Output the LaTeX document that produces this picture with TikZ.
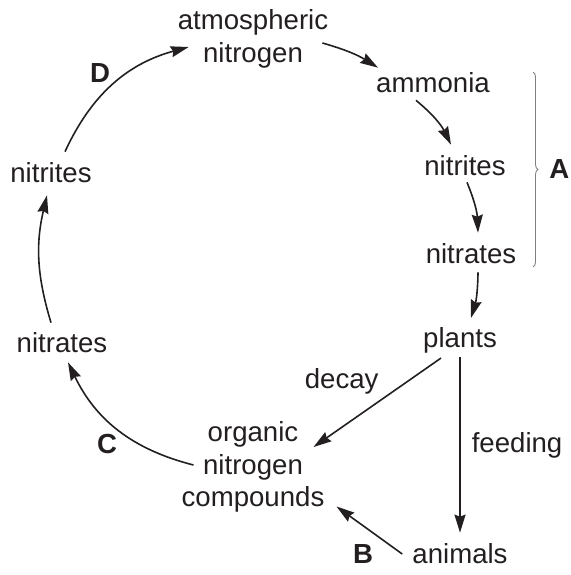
\documentclass[tikz,border=0pt]{standalone}
\usepackage{fontspec}
\setmainfont{Liberation Sans}
\usepackage{xcolor}
\usepackage{tikz}
\usetikzlibrary{arrows.meta,decorations.pathreplacing}
\definecolor{ink}{HTML}{231F20}
\definecolor{bracegray}{HTML}{808080}
\tikzset{
  term/.style ={inner sep=0pt,align=center,text=ink,
                font=\fontsize{27.6}{32.5}\selectfont},
  tag/.style  ={inner sep=0pt,text=ink,font=\fontsize{27.6}{32.5}\selectfont\bfseries},
  cyc/.style  ={-{Stealth[length=18pt,width=11pt,inset=2pt]},line width=1.6pt,draw=ink},
  brc/.style  ={decorate,decoration={brace,amplitude=5pt},line width=0.9pt,draw=bracegray}
}

\begin{document}
\begin{tikzpicture}[x=1pt,y=-1pt]
    \useasboundingbox (0,0) rectangle (570,575);
    % --- the compounds round the cycle ---
    \node[term] (atm) at (253,39) {atmospheric\\nitrogen};
    \node[term] (amm) at (433,83) {ammonia};
    \node[term] (nr)  at (465,166) {nitrites};
    \node[term] (nar) at (471,254) {nitrates};
    \node[term] (pla) at (460,340) {plants};
    \node[term] (ani) at (460,554) {animals};
    \node[term] (org) at (253,467) {organic\\nitrogen\\compounds};
    \node[term] (nal) at (62,343) {nitrates};
    \node[term] (nil) at (51,173) {nitrites};
    % --- process letters ---
    \node[tag] (D) at (100,73) {D};
    \node[tag] (C) at (107,444) {C};
    \node[tag] (B) at (363,554) {B};
    % --- right side, down ---
    \draw[cyc] ([xshift=-6pt,yshift=-4pt]atm.east) to[bend left=8]
      ([xshift=2pt,yshift=5pt]amm.north west);
    \draw[cyc] ([xshift=-17pt,yshift=-7pt]amm.south) to[bend left=12]
      ([xshift=-14pt,yshift=11pt]nr.north);
    \draw[cyc] ([xshift=2pt,yshift=-6pt]nr.south) to[bend left=10]
      ([xshift=7pt,yshift=11pt]nar.north);
    \draw[cyc] ([xshift=7pt,yshift=-8pt]nar.south) to[bend left=8]
      ([xshift=11pt,yshift=9pt]pla.north);
    % --- plants and animals ---
    \draw[cyc] ([yshift=-4pt]pla.south) --
      node[term,midway,right=11pt] (feed) {feeding} ([yshift=11pt]ani.north);
    \draw[cyc] ([xshift=-19pt,yshift=-5pt]pla.south) --
      node[term,midway,anchor=south east,xshift=2pt,yshift=8pt] (dec) {decay}
      ([xshift=-11pt,yshift=20pt]org.east);
    \draw[cyc] ([xshift=-10pt]ani.west) -- ([xshift=12pt,yshift=6pt]org.south east);
    % --- left side, up ---
    \draw[cyc] ([xshift=12pt,yshift=2pt]org.west) to[bend left=25]
      ([xshift=6pt,yshift=-9pt]nal.south);
    \draw[cyc] ([xshift=-11pt,yshift=10pt]nal.north) to[bend left=15]
      ([xshift=-4pt,yshift=-12pt]nil.south);
    \draw[cyc] ([xshift=14pt,yshift=11pt]nil.north) to[bend left=25]
      ([xshift=11pt,yshift=-8pt]atm.west);
    % --- brace over the soil bacteria steps ---
    \coordinate (btop) at (533,72);
    \coordinate (bbot) at (533,267);
    \draw[brc] (btop) -- node[tag,right=16pt] (A) {A} (bbot);
\end{tikzpicture}
\end{document}
